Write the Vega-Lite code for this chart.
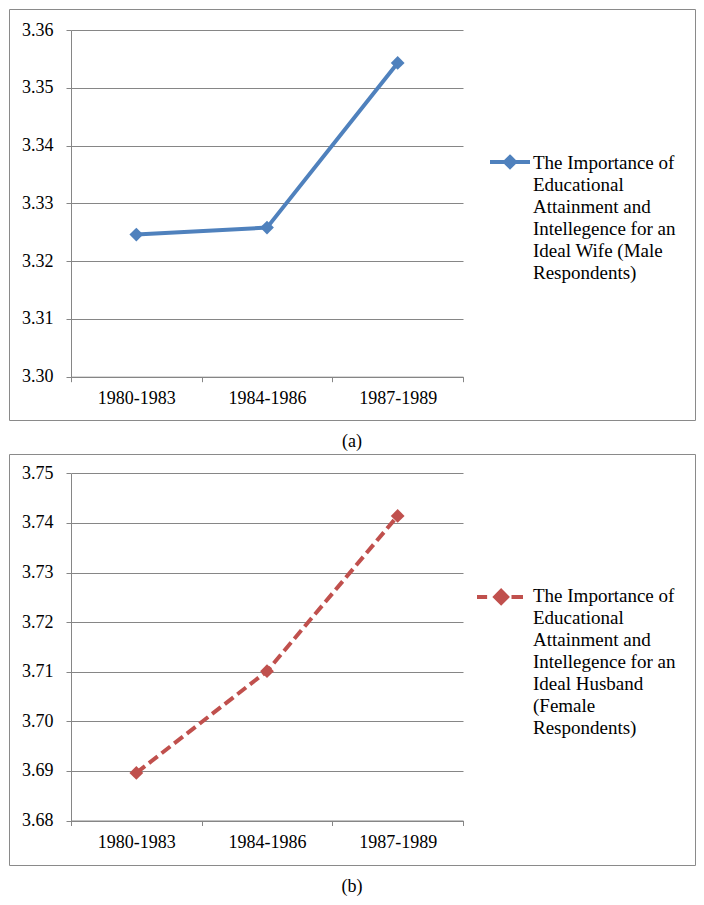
{
  "$schema": "https://vega.github.io/schema/vega-lite/v6.json",
  "padding": {"left": 8, "top": 8, "right": 0, "bottom": 0},
  "autosize": {"type": "pad"},
  "spacing": 1,
  "resolve": {"scale": {"color": "independent"}, "legend": {"color": "independent"}},
  "config": {
    "font": "Liberation Serif",
    "view": {"stroke": "#8a8a8a", "strokeWidth": 1},
    "axis": {
      "labelFont": "Liberation Serif",
      "labelFontSize": 18,
      "labelColor": "#000000",
      "domainColor": "#868686",
      "tickColor": "#868686",
      "gridColor": "#868686",
      "gridOpacity": 1,
      "domainWidth": 1,
      "tickWidth": 1,
      "gridWidth": 1
    },
    "title": {"font": "Liberation Serif", "fontSize": 18, "fontWeight": "normal", "color": "#000000"},
    "style": {"guide-label": {"lineHeight": 22}}
  },
  "vconcat": [
    {
      "width": 686,
      "height": 411,
      "title": {"text": "(a)", "orient": "bottom", "anchor": "middle", "frame": "group", "offset": 13},
      "data": {
        "values": [
          {"period": "1980-1983", "value": 3.3246, "series": "The Importance of\nEducational\nAttainment and\nIntellegence for an\nIdeal Wife (Male\nRespondents)"},
          {"period": "1984-1986", "value": 3.3258, "series": "The Importance of\nEducational\nAttainment and\nIntellegence for an\nIdeal Wife (Male\nRespondents)"},
          {"period": "1987-1989", "value": 3.3543, "series": "The Importance of\nEducational\nAttainment and\nIntellegence for an\nIdeal Wife (Male\nRespondents)"}
        ]
      },
      "mark": {"type": "line", "strokeWidth": 4, "point": {"shape": "diamond", "filled": true, "size": 190, "opacity": 1}},
      "encoding": {
        "x": {
          "field": "period", "type": "ordinal",
          "scale": {"type": "band", "range": [62, 454], "paddingInner": 0, "paddingOuter": 0},
          "axis": {"title": null, "labelAngle": 0, "tickBand": "extent", "offset": -43.3, "tickSize": 5, "labelPadding": 8, "grid": false}
        },
        "y": {
          "field": "value", "type": "quantitative",
          "scale": {"domain": [3.30, 3.36], "range": [367.7, 21], "nice": false, "zero": false},
          "axis": {"title": null, "values": [3.30, 3.31, 3.32, 3.33, 3.34, 3.35, 3.36], "format": ".2f", "offset": -62, "tickSize": 5, "labelPadding": 13, "grid": true}
        },
        "color": {
          "field": "series", "type": "nominal",
          "scale": {"range": ["#4F81BD"]},
          "legend": {
            "title": null, "orient": "none", "legendX": 479, "legendY": 123,
            "symbolType": "M-1,0.4L1,0.4M0,0.15L0.25,0.4L0,0.65L-0.25,0.4Z",
            "symbolSize": 1600, "symbolStrokeWidth": 4,
            "symbolFillColor": "#4F81BD", "symbolStrokeColor": "#4F81BD",
            "labelOffset": 1, "labelFontSize": 19, "labelFont": "Liberation Serif", "labelColor": "#000000",
            "labelExpr": "split(datum.label, '\\n')", "labelBaseline": "top", "labelLimit": 400
          }
        }
      }
    },
    {
      "width": 686,
      "height": 411,
      "title": {"text": "(b)", "orient": "bottom", "anchor": "middle", "frame": "group", "offset": 13},
      "data": {
        "values": [
          {"period": "1980-1983", "value": 3.6896, "series": "The Importance of\nEducational\nAttainment and\nIntellegence for an\nIdeal Husband\n(Female\nRespondents)"},
          {"period": "1984-1986", "value": 3.7101, "series": "The Importance of\nEducational\nAttainment and\nIntellegence for an\nIdeal Husband\n(Female\nRespondents)"},
          {"period": "1987-1989", "value": 3.7414, "series": "The Importance of\nEducational\nAttainment and\nIntellegence for an\nIdeal Husband\n(Female\nRespondents)"}
        ]
      },
      "mark": {"type": "line", "strokeWidth": 4, "strokeDash": [11, 5], "point": {"shape": "diamond", "filled": true, "size": 190, "opacity": 1}},
      "encoding": {
        "x": {
          "field": "period", "type": "ordinal",
          "scale": {"type": "band", "range": [62, 454], "paddingInner": 0, "paddingOuter": 0},
          "axis": {"title": null, "labelAngle": 0, "tickBand": "extent", "offset": -44.5, "tickSize": 5, "labelPadding": 8, "grid": false}
        },
        "y": {
          "field": "value", "type": "quantitative",
          "scale": {"domain": [3.68, 3.75], "range": [366.5, 19.3], "nice": false, "zero": false},
          "axis": {"title": null, "values": [3.68, 3.69, 3.70, 3.71, 3.72, 3.73, 3.74, 3.75], "format": ".2f", "offset": -62, "tickSize": 5, "labelPadding": 13, "grid": true}
        },
        "color": {
          "field": "series", "type": "nominal",
          "scale": {"range": ["#C0504D"]},
          "legend": {
            "title": null, "orient": "none", "legendX": 466, "legendY": 108,
            "symbolType": "M-1,0.43L-0.56,0.43M0.5,0.43L1,0.43M0.05,0.17L0.31,0.43L0.05,0.69L-0.21,0.43Z",
            "symbolSize": 2116, "symbolStrokeWidth": 4,
            "symbolFillColor": "#C0504D", "symbolStrokeColor": "#C0504D",
            "labelOffset": 8, "labelFontSize": 19, "labelFont": "Liberation Serif", "labelColor": "#000000",
            "labelExpr": "split(datum.label, '\\n')", "labelBaseline": "top", "labelLimit": 400
          }
        }
      }
    }
  ]
}
